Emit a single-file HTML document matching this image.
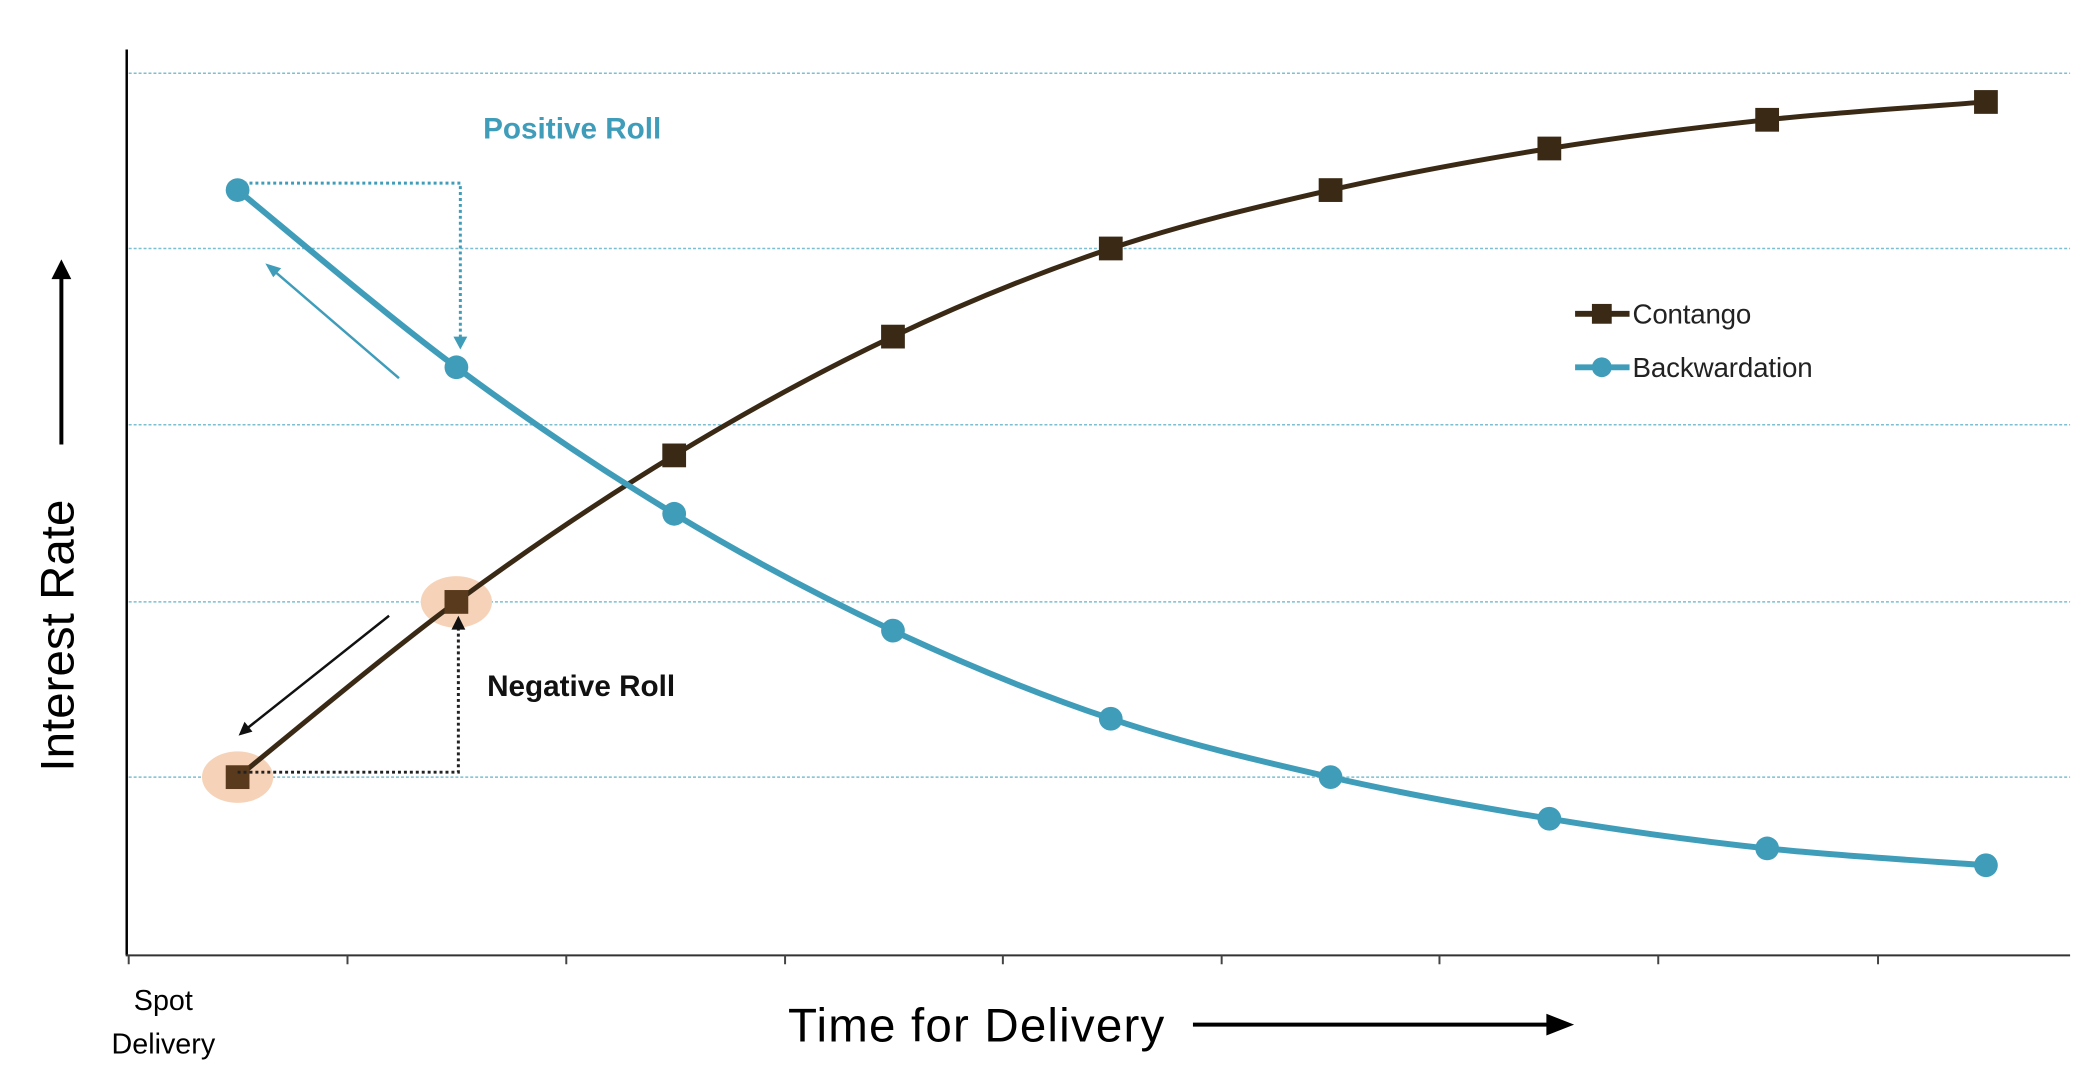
<!DOCTYPE html>
<html><head><meta charset="utf-8"><style>
html,body{margin:0;padding:0;background:#fff;}
svg{display:block;}
text{font-family:"Liberation Sans",sans-serif;}
</style></head><body>
<svg id="s" width="2094" height="1092" viewBox="0 0 2094 1092" xmlns="http://www.w3.org/2000/svg">
<g transform="scale(0.99)">
<g stroke="#7cbfd0" stroke-width="1.5" stroke-dasharray="3,2">
<line x1="130" y1="74" x2="2091" y2="74"/>
<line x1="130" y1="251" x2="2091" y2="251"/>
<line x1="130" y1="429" x2="2091" y2="429"/>
<line x1="130" y1="608" x2="2091" y2="608"/>
<line x1="130" y1="785" x2="2091" y2="785"/>
</g>
<line x1="128" y1="50" x2="128" y2="965" stroke="#000" stroke-width="2.5"/>
<line x1="127" y1="965" x2="2091" y2="965" stroke="#333" stroke-width="2"/>
<g stroke="#444" stroke-width="2">
<line x1="130" y1="965" x2="130" y2="974"/><line x1="351" y1="965" x2="351" y2="974"/>
<line x1="572" y1="965" x2="572" y2="974"/><line x1="793" y1="965" x2="793" y2="974"/>
<line x1="1013" y1="965" x2="1013" y2="974"/><line x1="1234" y1="965" x2="1234" y2="974"/>
<line x1="1454" y1="965" x2="1454" y2="974"/><line x1="1675" y1="965" x2="1675" y2="974"/>
<line x1="1897" y1="965" x2="1897" y2="974"/>
</g>
<ellipse cx="240" cy="785" rx="36" ry="26" fill="#f6d3b8"/>
<ellipse cx="461" cy="608" rx="36" ry="26" fill="#f6d3b8"/>
<path id="cp" fill="none" stroke="#3a2a15" stroke-width="5"/>
<path id="bp" fill="none" stroke="#3f9dba" stroke-width="6"/>
<g id="cm" fill="#3a2a15"></g>
<g id="bm" fill="#3f9dba"></g>
<polyline points="240,185 465,185 465,345" fill="none" stroke="#3f9dba" stroke-width="3" stroke-dasharray="3,3"/>
<path d="M458,340 L472,340 L465,353 z" fill="#3f9dba"/>
<line x1="403" y1="382" x2="275" y2="272" stroke="#3f9dba" stroke-width="2.5"/>
<path d="M268,266 L284,271 L276,280 z" fill="#3f9dba"/>
<text x="488" y="140" font-size="30" font-weight="bold" fill="#3f9dba">Positive Roll</text>
<polyline points="240,780 463,780 463,632" fill="none" stroke="#222" stroke-width="3" stroke-dasharray="3,3"/>
<path d="M456,636 L470,636 L463,622 z" fill="#111"/>
<line x1="393" y1="622" x2="248" y2="737" stroke="#111" stroke-width="2.5"/>
<path d="M241,743 L247,729 L255,739 z" fill="#111"/>
<text x="492" y="703" font-size="30" font-weight="bold" fill="#111">Negative Roll</text>
<g transform="translate(19,4)">
<line x1="1572" y1="313" x2="1627" y2="313" stroke="#3a2a15" stroke-width="6"/>
<rect x="1589" y="303" width="20" height="20" fill="#3a2a15"/>
<text x="1630" y="323" font-size="28" fill="#222" textLength="120">Contango</text>
<line x1="1572" y1="367" x2="1627" y2="367" stroke="#3f9dba" stroke-width="6"/>
<circle cx="1599" cy="367" r="10" fill="#3f9dba"/>
<text x="1630" y="377" font-size="28" fill="#222" textLength="182">Backwardation</text>
</g>
<text transform="translate(74,642) rotate(-90)" text-anchor="middle" font-size="48" fill="#000">Interest Rate</text>
<line x1="62" y1="449" x2="62" y2="280" stroke="#000" stroke-width="4"/>
<path d="M52,282 L72,282 L62,262 z" fill="#000"/>
<text x="796" y="1052" font-size="48" fill="#000" textLength="380">Time for Delivery</text>
<line x1="1205" y1="1035" x2="1565" y2="1035" stroke="#000" stroke-width="4"/>
<path d="M1562,1024 L1590,1035 L1562,1046 z" fill="#000"/>
<text x="165" y="1020" text-anchor="middle" font-size="29" fill="#000">Spot</text>
<text x="165" y="1064" text-anchor="middle" font-size="29" fill="#000">Delivery</text>
</g>
</svg>
<script>
var xs=[240,461,681,902,1122,1344,1565,1785,2006];
var cy=[785,608,460,340,251,192,150,121,103];
var by=[192,371,519,637,726,785,827,857,874];
function path(ys){var p=xs.map(function(x,i){return [x,ys[i]];});var d="M"+p[0][0]+","+p[0][1];
for(var i=0;i<p.length-1;i++){var p0=p[i-1]||p[i],p1=p[i],p2=p[i+1],p3=p[i+2]||p2;
var c1=[p1[0]+(p2[0]-p0[0])/6,p1[1]+(p2[1]-p0[1])/6],c2=[p2[0]-(p3[0]-p1[0])/6,p2[1]-(p3[1]-p1[1])/6];
d+=" C"+c1.join(",")+" "+c2.join(",")+" "+p2.join(",");}return d;}
document.getElementById('cp').setAttribute('d',path(cy));
document.getElementById('bp').setAttribute('d',path(by));
var ns="http://www.w3.org/2000/svg",cm=document.getElementById('cm'),bm=document.getElementById('bm');
xs.forEach(function(x,i){var r=document.createElementNS(ns,'rect');r.setAttribute('x',x-12);r.setAttribute('y',cy[i]-12);r.setAttribute('width',24);r.setAttribute('height',24);if(i<2)r.setAttribute('fill','#5a3a1c');cm.appendChild(r);
var c=document.createElementNS(ns,'circle');c.setAttribute('cx',x);c.setAttribute('cy',by[i]);c.setAttribute('r',12);bm.appendChild(c);});
</script>
</body></html>
